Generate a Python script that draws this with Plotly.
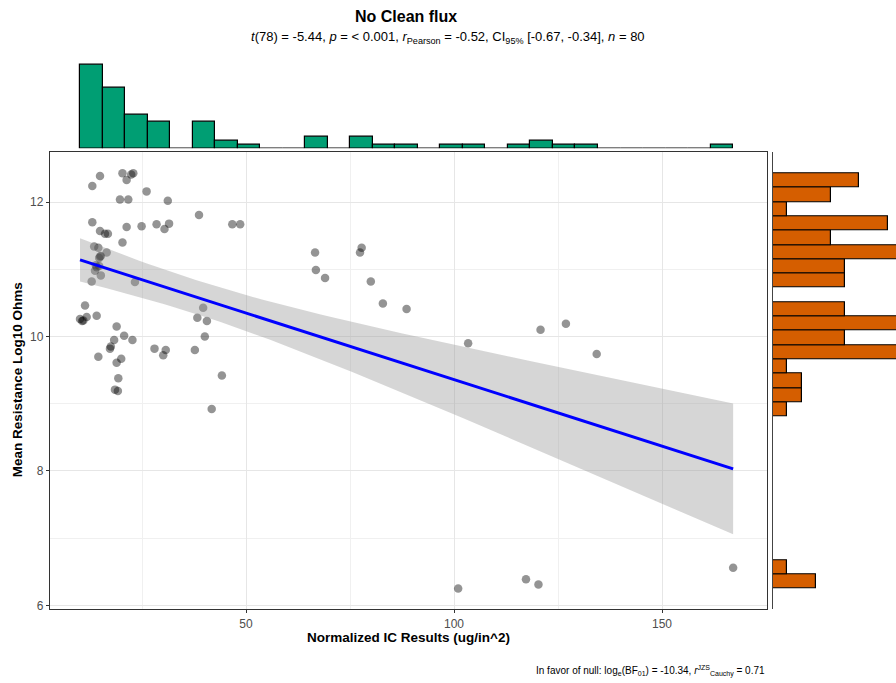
import numpy as np
import plotly.graph_objects as go

# ---- data (Normalized IC Results vs Mean Resistance) ----
ic_results = [14.9, 13.05, 20.3, 21.3, 22.9, 22.4, 26.1, 19.7, 21.7, 31.2,
              13.05, 14.9, 16.1, 16.8, 21.3, 24.9, 28.5, 30.4, 31.5, 38.7,
              46.7, 48.6, 20.3, 13.5, 14.5, 16.5, 15.1, 14.7, 14.9, 13.9,
              14.7, 13.7, 14.1, 15.1, 12.9, 23.3, 66.6, 66.8, 69.0, 77.8,
              77.4, 80.0, 82.9, 88.6, 39.7, 38.3, 40.6, 40.1, 37.7, 44.2,
              41.75, 11.3, 10.1, 10.9, 10.6, 11.7, 14.1, 18.9, 20.7, 22.7,
              18.3, 17.5, 17.3, 14.5, 20.0, 18.9, 28.0, 30.7, 30.1, 19.3,
              18.5, 19.2, 103.4, 120.8, 126.9, 134.3, 101.0, 117.3, 120.3, 167.1]
resistance = [12.39, 12.24, 12.43, 12.33, 12.43, 12.41, 12.16, 12.04, 12.04, 12.02,
              11.70, 11.57, 11.53, 11.53, 11.63, 11.64, 11.67, 11.60, 11.68, 11.81,
              11.67, 11.67, 11.40, 11.34, 11.32, 11.25, 11.20, 11.17, 11.19, 11.06,
              11.05, 10.98, 11.03, 10.91, 10.82, 10.81, 11.25, 10.99, 10.87, 11.32,
              11.25, 10.82, 10.49, 10.41, 10.43, 10.28, 10.23, 10.00, 9.80, 9.42,
              8.92, 10.46, 10.26, 10.24, 10.23, 10.29, 10.31, 10.15, 10.01, 9.95,
              9.95, 9.85, 9.82, 9.70, 9.67, 9.61, 9.82, 9.80, 9.72, 9.38,
              9.21, 9.19, 9.90, 10.10, 10.19, 9.74, 6.25, 6.39, 6.31, 6.56]

title_text = "No Clean flux"
subtitle_text = ("<i>t</i>(78) = -5.44, <i>p</i> = &lt; 0.001, <i>r</i><sub>Pearson</sub> = -0.52, "
                 "CI<sub>95%</sub> [-0.67, -0.34], <i>n</i> = 80")
caption_text = ("In favor of null: log<sub>e</sub>(BF<sub>01</sub>) = -10.34, "
                "<i>r</i><sup>JZS</sup><sub>Cauchy</sub> = 0.71")
x_title = "Normalized IC Results (ug/in^2)"
y_title = "Mean Resistance Log10 Ohms"
n_bins = 29

x = np.array(ic_results)
y = np.array(resistance)
n = len(x)

# ---- linear fit with 95% confidence band ----
b1, b0 = np.polyfit(x, y, 1)
resid = y - (b0 + b1 * x)
s = np.sqrt(np.sum(resid ** 2) / (n - 2))
xbar = x.mean()
sxx = np.sum((x - xbar) ** 2)
t_crit = 1.9908
xf = np.linspace(x.min(), x.max(), 80)
yf = b0 + b1 * xf
se = s * np.sqrt(1.0 / n + (xf - xbar) ** 2 / sxx)
lo = yf - t_crit * se
hi = yf + t_crit * se

# ---- marginal histograms ----
cx, ex = np.histogram(x, bins=n_bins, range=(x.min(), x.max()))
cy, ey = np.histogram(y, bins=n_bins, range=(y.min(), y.max()))
wx = ex[1] - ex[0]
wy = ey[1] - ey[0]

W, H = 896, 683
xr = [2.88, 175.24]
yr = [5.941, 12.741]
xd = [50 / W, 767 / W]
yd = [71 / H, 530 / H]

fig = go.Figure()
fig.add_trace(go.Scatter(x=x, y=y, mode="markers",
                         marker=dict(size=8.5, color="rgba(0,0,0,0.42)", line=dict(width=0)),
                         xaxis="x", yaxis="y", hoverinfo="skip"))
fig.add_trace(go.Scatter(x=np.concatenate([xf, xf[::-1]]), y=np.concatenate([hi, lo[::-1]]),
                         fill="toself", fillcolor="rgba(153,153,153,0.4)", mode="lines",
                         line=dict(width=0), xaxis="x", yaxis="y", hoverinfo="skip"))
fig.add_trace(go.Scatter(x=xf, y=yf, mode="lines", line=dict(color="#0000FF", width=3),
                         xaxis="x", yaxis="y", hoverinfo="skip"))
fig.add_trace(go.Bar(x=(ex[:-1] + ex[1:]) / 2, y=cx, width=wx,
                     marker=dict(color="#009E73", line=dict(color="black", width=1.2)),
                     xaxis="x2", yaxis="y2"))
fig.add_trace(go.Bar(y=(ey[:-1] + ey[1:]) / 2, x=cy, width=wy, orientation="h",
                     marker=dict(color="#D55E00", line=dict(color="black", width=1.2)),
                     xaxis="x3", yaxis="y3"))

fnt = "Liberation Sans, Arial, sans-serif"
tickfont = dict(size=12, color="#4D4D4D")
fig.update_layout(
    width=W, height=H, margin=dict(l=0, r=0, t=0, b=0),
    paper_bgcolor="white", plot_bgcolor="white", showlegend=False,
    bargap=0, font=dict(family=fnt, color="black"),
    xaxis=dict(domain=xd, range=xr, anchor="y", tick0=0, dtick=50, ticks="outside",
               ticklen=3, tickcolor="#333333", tickfont=tickfont,
               showgrid=True, gridcolor="#E6E6E6", gridwidth=1,
               minor=dict(dtick=25, tick0=0, showgrid=True, gridcolor="#F0F0F0", gridwidth=1),
               showline=True, linecolor="#333333", linewidth=1.3, mirror=True, zeroline=False),
    yaxis=dict(domain=yd, range=yr, anchor="x", tick0=0, dtick=2, ticks="outside",
               ticklen=3, tickcolor="#333333", tickfont=tickfont,
               showgrid=True, gridcolor="#E6E6E6", gridwidth=1,
               minor=dict(dtick=1, tick0=0, showgrid=True, gridcolor="#F0F0F0", gridwidth=1),
               showline=True, linecolor="#333333", linewidth=1.3, mirror=True, zeroline=False),
    xaxis2=dict(domain=xd, range=xr, anchor="y2", showticklabels=False, ticks="",
                showgrid=False, zeroline=False, showline=False),
    yaxis2=dict(domain=[(H - 149) / H, (H - 58) / H], range=[0, 23.95], anchor="x2",
                visible=False),
    xaxis3=dict(domain=[773 / W, 1.0], range=[0, 8.54], anchor="y3", visible=False),
    yaxis3=dict(domain=yd, range=yr, anchor="x3", showticklabels=False, ticks="",
                showgrid=False, zeroline=False, showline=True, linecolor="#444444",
                linewidth=1.2),
)

ann = [
    dict(text="<b>" + title_text + "</b>", x=406 / W, y=1 - 17 / H, font=dict(size=16)),
    dict(text=subtitle_text, x=448 / W, y=1 - 38 / H, font=dict(size=13)),
    dict(text="<b>" + x_title + "</b>", x=408 / W, y=1 - 640 / H, font=dict(size=13.5)),
    dict(text="<b>" + y_title + "</b>", x=17 / W, y=1 - 382 / H, font=dict(size=13.5),
         textangle=-90),
]
for a in ann:
    fig.add_annotation(xref="paper", yref="paper", showarrow=False,
                       xanchor="center", yanchor="middle", **a)
fig.add_annotation(text=caption_text, xref="paper", yref="paper", x=767 / W, y=1 - 674 / H,
                   xanchor="right", yanchor="middle", showarrow=False, font=dict(size=10))

fig.write_html("out.html")
